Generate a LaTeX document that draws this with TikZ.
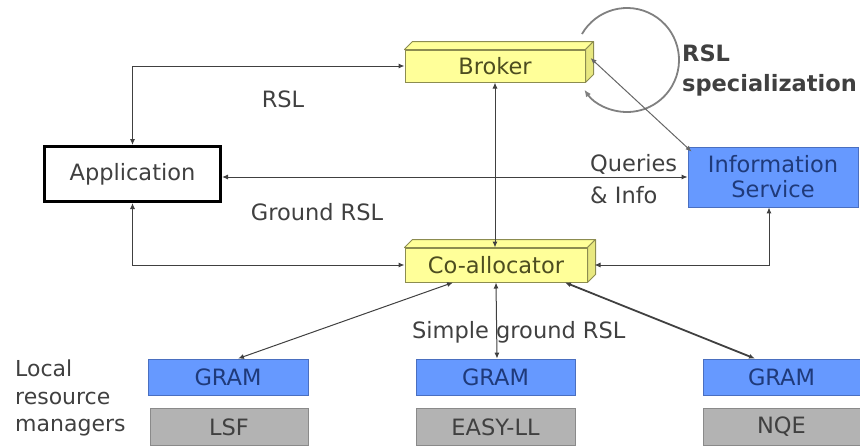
\documentclass[tikz,border=0pt]{standalone}
\usepackage{fontspec}
\setmainfont{DejaVu Sans}
\usetikzlibrary{arrows.meta,calc}
\definecolor{yel}{HTML}{FFFF99}
\definecolor{yelside}{HTML}{E8E880}
\definecolor{yelborder}{HTML}{8C8C50}
\definecolor{yeltext}{HTML}{4D4D20}
\definecolor{blu}{HTML}{6699FF}
\definecolor{bluborder}{HTML}{4A6FC0}
\definecolor{blutext}{HTML}{1F3A7A}
\definecolor{gry}{HTML}{B3B3B3}
\definecolor{gryborder}{HTML}{8A8A8A}
\definecolor{txt}{HTML}{404040}
\definecolor{ln}{HTML}{404040}
\newcommand\mydepth[1]{%
  \filldraw[fill=yel, draw=yelborder, line width=1pt, line join=round]
    (#1.north west) -- ++(8,8) -- ($(#1.north east)+(8,8)$) -- (#1.north east) -- cycle;
  \filldraw[fill=yelside, draw=yelborder, line width=1pt, line join=round]
    (#1.north east) -- ++(8,8) -- ($(#1.south east)+(8,8)$) -- (#1.south east) -- cycle;}
\tikzset{
  base/.style={font=\fontsize{22.5}{26}\selectfont, inner sep=0pt, text=txt},
  yelbox/.style={base, draw=yelborder, fill=yel, text=yeltext, line width=1pt, minimum width=180pt, minimum height=32pt},
  blubox/.style={base, draw=bluborder, fill=blu, text=blutext, line width=0.8pt, minimum height=36pt},
  grybox/.style={base, draw=gryborder, fill=gry, text=txt, line width=0.8pt, minimum height=37pt},
  appbox/.style={base, draw=black, fill=white, line width=3pt, minimum width=176pt, minimum height=55pt},
  lbl/.style={base},
  conn/.style={draw=ln, line width=1pt, {Latex[length=6pt,width=5pt]}-{Latex[length=6pt,width=5pt]}},
}
\begin{document}
\begin{tikzpicture}[x=1pt,y=1pt]
\useasboundingbox (0,0) rectangle (860,-445);
% loop
\coordinate (lc) at (627,-60);
\draw[gray, line width=1.8pt, -{Latex[length=7pt,width=6pt]}] ($(lc)+(150:52)$) arc[start angle=150, end angle=-145, radius=52];
% nodes
\node[appbox] (app) at (132.5,-174) {Application};
\node[yelbox] (broker) at (495,-66) {Broker};
\mydepth{broker}
\node[yelbox, minimum width=182pt, minimum height=34pt] (coal) at (496,-265) {Co-allocator};
\mydepth{coal}
\node[blubox, minimum width=170pt, minimum height=60pt, align=center, font=\fontsize{22.5}{25}\selectfont] (info) at (773,-177) {Information\\Service};
\node[blubox, minimum width=160pt] (g1) at (228,-377) {GRAM};
\node[blubox, minimum width=159pt] (g2) at (495.5,-377) {GRAM};
\node[blubox, minimum width=157pt] (g3) at (781.5,-377) {GRAM};
\node[grybox, minimum width=158pt] (lsf) at (229,-427) {LSF};
\node[grybox, minimum width=159pt] (easy) at (495.5,-427) {EASY-LL};
\node[grybox, minimum width=157pt] (nqe) at (781.5,-427) {NQE};
% labels
\node[lbl] (rsl) at (283,-99) {RSL};
\node[lbl] (grsl) at (317,-212) {Ground RSL};
\node[lbl, align=left, anchor=west, font=\fontsize{22.5}{32}\selectfont] (qi) at (590,-179) {Queries\\\& Info};
\node[lbl, anchor=west] (simple) at (412,-332) {Simple ground RSL};
\node[lbl, align=left, anchor=west, font=\fontsize{22}{27.5}\selectfont] (lrm) at (15,-398) {Local\\resource\\managers};
\node[lbl, align=left, anchor=west, font=\bfseries\fontsize{22.5}{30}\selectfont] (spec) at (682,-70) {RSL\\specialization};
% connectors
\draw[conn] (app.north) |- (broker.west);
\draw[conn] (app.south) |- (coal.west);
\draw[conn] ([yshift=-3pt]app.east) -- ([yshift=-3pt]app.east -| info.west);
\draw[conn] (broker.south) -- (broker.south |- coal.north);
\draw[conn] ([xshift=7pt]coal.east) -| ([xshift=-4pt]info.south);
\draw[conn] ([xshift=-43pt]coal.south) -- ([xshift=10pt]g1.north);
\draw[conn] (coal.south) -- ([xshift=1.5pt]g2.north);
\draw[conn, line width=1.8pt] ([xshift=69pt]coal.south) -- ([xshift=-26.5pt]g3.north);
\draw[conn, draw=gray!80!black] ([shift={(5pt,8pt)}]broker.east) -- ([shift={(4pt,-5pt)}]info.north west);
\end{tikzpicture}
\end{document}
